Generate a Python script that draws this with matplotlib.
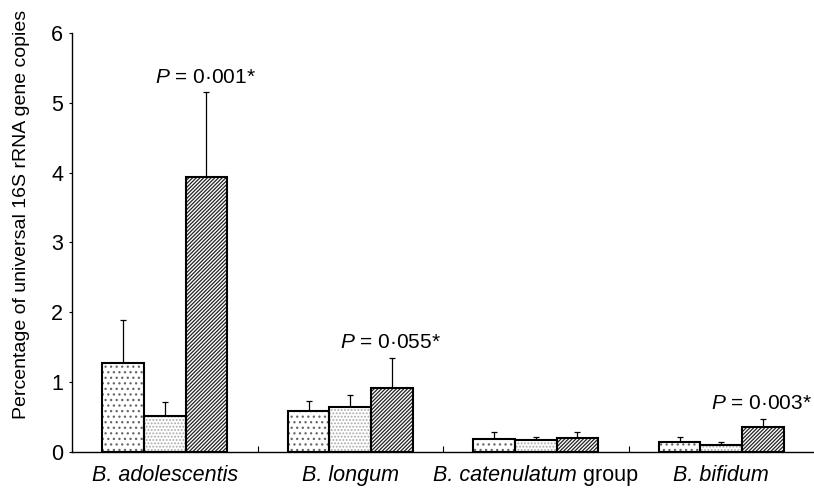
import numpy as np
import matplotlib
matplotlib.use('Agg')
from matplotlib import pyplot as plt

# (italic part, roman part) of each category label
species = [('B. adolescentis', ''), ('B. longum', ''),
           ('B. catenulatum', ' group'), ('B. bifidum', '')]
means_a = [1.27, 0.58, 0.19, 0.15]
means_b = [0.52, 0.64, 0.17, 0.095]
means_c = [3.94, 0.92, 0.20, 0.36]
err_a = [0.62, 0.15, 0.10, 0.07]
err_b = [0.19, 0.17, 0.05, 0.045]
err_c = [1.21, 0.43, 0.08, 0.11]
p_labels = [r'$\it{P}$ = 0·001*', r'$\it{P}$ = 0·055*', None, r'$\it{P}$ = 0·003*']

plt.rcParams['font.family'] = 'Liberation Sans'
plt.rcParams['mathtext.fontset'] = 'custom'
plt.rcParams['mathtext.rm'] = 'Liberation Sans'
plt.rcParams['mathtext.it'] = 'Liberation Sans:italic'
plt.rcParams['hatch.linewidth'] = 0.9

fig = plt.figure(figsize=(8.14, 4.88), dpi=100)
ax = fig.add_axes([0.0885, 0.0738, 0.9115, 0.8586])

x = np.arange(len(species))
w = 0.224
series = [(means_a, err_a, '...', '#666666'),
          (means_b, err_b, '.....', '#aaaaaa'),
          (means_c, err_c, '/////////', '#222222')]
for i, (m, e, h, hc) in enumerate(series):
    pos = x + (i - 1) * w
    ax.errorbar(pos, m, yerr=[np.zeros(len(m)), e], fmt='none', ecolor='black',
                elinewidth=0.9, capsize=2.5, capthick=0.9, zorder=1)
    ax.bar(pos, m, w, color='white', edgecolor=hc, hatch=h, linewidth=0, zorder=2)
    ax.bar(pos, m, w, fill=False, edgecolor='black', linewidth=1.5, zorder=3)

for i, lab in enumerate(p_labels):
    if lab is None:
        continue
    ax.annotate(lab, (x[i] + w, means_c[i] + err_c[i]), xytext=(-37, 7),
                textcoords='offset points', ha='left', va='baseline', fontsize=15)

ax.set_xlim(-0.5, 3.5)
ax.set_ylim(0, 6)
ax.set_yticks(range(7))
ax.tick_params(axis='y', labelsize=15.5, length=2.5, pad=4)
ax.set_xticks([0.5, 1.5, 2.5])
ax.set_xticklabels([])
ax.tick_params(axis='x', which='major', direction='in', length=4)

# category labels: italic name, optional roman suffix, centred as a whole
renderer = fig.canvas.get_renderer()
for xi, (it, rm) in zip(x, species):
    t1 = ax.annotate(it, (xi, 0), xycoords=('data', 'axes fraction'),
                     xytext=(0, -9.5), textcoords='offset points',
                     ha='left', va='top', fontsize=15.5, style='italic')
    w1 = t1.get_window_extent(renderer).width
    w2 = 0
    if rm:
        t2 = ax.annotate(rm, (1, 0), xycoords=t1, ha='left', va='bottom',
                         fontsize=15.5)
        w2 = t2.get_window_extent(renderer).width
    t1.set_position((-(w1 + w2) / 2 * 72 / fig.dpi, -9.5))

ax.set_ylabel('Percentage of universal 16S rRNA gene copies', fontsize=14)
ax.yaxis.set_label_coords(-0.057, 0.568)
for s in ['top', 'right']:
    ax.spines[s].set_visible(False)
ax.spines['left'].set_linewidth(1.0)
ax.spines['bottom'].set_linewidth(1.0)

fig.savefig('out.png', dpi=100)
